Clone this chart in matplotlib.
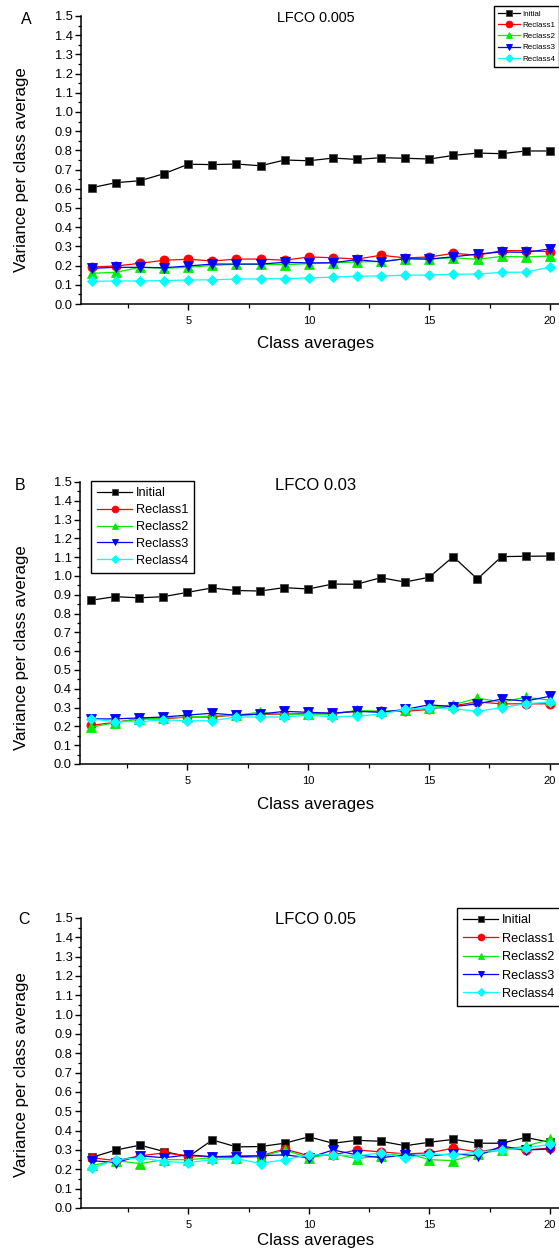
import matplotlib
matplotlib.use("Agg")
import matplotlib.pyplot as plt
from matplotlib.ticker import MultipleLocator
import numpy as np

plt.rcParams['font.family'] = ['Liberation Sans', 'DejaVu Sans']

# ---------------- data ----------------
class_idx = list(range(1, 21))
series_names = ["Initial", "Reclass1", "Reclass2", "Reclass3", "Reclass4"]

# Panel A  (LFCO 0.005)
a_initial = [0.606, 0.632, 0.642, 0.679, 0.728, 0.726, 0.729, 0.720, 0.750, 0.746,
             0.760, 0.753, 0.762, 0.759, 0.755, 0.774, 0.786, 0.783, 0.797, 0.797]
a_reclass1 = [0.193, 0.198, 0.212, 0.228, 0.233, 0.224, 0.234, 0.234, 0.228, 0.245,
              0.241, 0.234, 0.254, 0.240, 0.245, 0.264, 0.254, 0.278, 0.278, 0.272]
a_reclass2 = [0.160, 0.165, 0.191, 0.186, 0.191, 0.201, 0.207, 0.207, 0.205, 0.210,
              0.214, 0.219, 0.222, 0.236, 0.234, 0.241, 0.233, 0.248, 0.245, 0.250]
a_reclass3 = [0.186, 0.191, 0.191, 0.189, 0.198, 0.208, 0.208, 0.208, 0.217, 0.214,
              0.215, 0.231, 0.219, 0.236, 0.234, 0.246, 0.260, 0.271, 0.269, 0.287]
a_reclass4 = [0.118, 0.120, 0.120, 0.122, 0.125, 0.126, 0.130, 0.131, 0.132, 0.136,
              0.140, 0.145, 0.146, 0.150, 0.151, 0.155, 0.156, 0.165, 0.166, 0.192]

# Panel B  (LFCO 0.03)
b_initial = [0.871, 0.890, 0.884, 0.890, 0.913, 0.936, 0.923, 0.920, 0.938, 0.931,
             0.957, 0.956, 0.991, 0.968, 0.993, 1.103, 0.984, 1.103, 1.105, 1.106]
b_reclass1 = [0.205, 0.222, 0.240, 0.240, 0.250, 0.250, 0.260, 0.265, 0.265, 0.270,
              0.270, 0.280, 0.280, 0.280, 0.290, 0.310, 0.330, 0.320, 0.320, 0.320]
b_reclass2 = [0.195, 0.220, 0.240, 0.245, 0.250, 0.255, 0.260, 0.275, 0.265, 0.265,
              0.265, 0.285, 0.280, 0.285, 0.300, 0.315, 0.350, 0.330, 0.355, 0.340]
b_reclass3 = [0.240, 0.240, 0.245, 0.250, 0.260, 0.270, 0.260, 0.265, 0.280, 0.275,
              0.270, 0.280, 0.275, 0.290, 0.315, 0.305, 0.320, 0.345, 0.335, 0.360]
b_reclass4 = [0.240, 0.225, 0.225, 0.235, 0.230, 0.230, 0.250, 0.250, 0.250, 0.260,
              0.250, 0.255, 0.265, 0.290, 0.300, 0.295, 0.280, 0.300, 0.320, 0.330]

# Panel C  (LFCO 0.05)
c_initial = [0.262, 0.300, 0.325, 0.292, 0.265, 0.352, 0.316, 0.318, 0.335, 0.368,
             0.335, 0.350, 0.345, 0.322, 0.340, 0.355, 0.335, 0.335, 0.365, 0.340]
c_reclass1 = [0.260, 0.245, 0.270, 0.285, 0.270, 0.265, 0.270, 0.270, 0.305, 0.270,
              0.275, 0.300, 0.290, 0.280, 0.285, 0.310, 0.290, 0.310, 0.300, 0.310]
c_reclass2 = [0.220, 0.245, 0.230, 0.250, 0.250, 0.260, 0.260, 0.265, 0.300, 0.260,
              0.280, 0.255, 0.270, 0.285, 0.250, 0.245, 0.280, 0.300, 0.320, 0.355]
c_reclass3 = [0.245, 0.235, 0.270, 0.260, 0.275, 0.265, 0.265, 0.270, 0.275, 0.260,
              0.300, 0.275, 0.260, 0.275, 0.270, 0.280, 0.270, 0.320, 0.300, 0.305]
c_reclass4 = [0.205, 0.250, 0.260, 0.240, 0.235, 0.250, 0.255, 0.230, 0.250, 0.275,
              0.275, 0.270, 0.285, 0.260, 0.280, 0.275, 0.290, 0.300, 0.310, 0.330]

panel_letters = ["A", "B", "C"]
panel_titles = ["LFCO 0.005", "LFCO 0.03", "LFCO 0.05"]
x_label = "Class averages"
y_label = "Variance per class average"

# ---------------- styling ----------------
colors = ["black", "red", "#00ee00", "blue", "cyan"]
markers = ["s", "o", "^", "v", "D"]
msizes = [6.0, 6.5, 6.5, 6.5, 5.0]

W, H = 559, 1258
fig = plt.figure(figsize=(W / 100, H / 100), dpi=100)


def rect(l, t, r, b):
    return [l / W, 1 - b / H, (r - l) / W, (b - t) / H]


panels = [
    dict(data=[a_initial, a_reclass1, a_reclass2, a_reclass3, a_reclass4],
         box=(81, 16, 574, 304), letter_xy=(26, 20), title_y=18, ylab_y=170,
         xlab_y=343, leg=dict(loc="upper right", anchor=(559, 6), fs=5.8,
                              spacing=0.45, ms=0.75)),
    dict(data=[b_initial, b_reclass1, b_reclass2, b_reclass3, b_reclass4],
         box=(80, 482, 574, 764), letter_xy=(20, 485), title_y=486, ylab_y=648,
         xlab_y=804, leg=dict(loc="upper left", anchor=(91, 481), fs=9.2,
                              spacing=0.38, ms=0.75)),
    dict(data=[c_initial, c_reclass1, c_reclass2, c_reclass3, c_reclass4],
         box=(81, 918, 574, 1208), letter_xy=(24, 920), title_y=920, ylab_y=1075,
         xlab_y=1240, leg=dict(loc="upper left", anchor=(457, 908), fs=9.2,
                               spacing=0.5, ms=0.75)),
]

title_sizes = [10.4, 12.0, 12.0]

for i, p in enumerate(panels):
    l, t, r, b = p["box"]
    ax = fig.add_axes(rect(l, t, r, b))
    for s, vals in enumerate(p["data"]):
        ax.plot(class_idx, vals, color=colors[s], marker=markers[s],
                markersize=msizes[s], markeredgecolor=colors[s] if s else "#444444",
                markeredgewidth=0.6, linewidth=0.9, label=series_names[s])
    ax.set_xlim(0.55, 21)
    ax.set_ylim(0.0, 1.5)
    ax.spines["top"].set_visible(False)
    ax.spines["right"].set_visible(False)
    for sp in ("left", "bottom"):
        ax.spines[sp].set_linewidth(1.1)
    ax.xaxis.set_major_locator(MultipleLocator(5))
    ax.xaxis.set_minor_locator(MultipleLocator(2.5))
    ax.yaxis.set_major_locator(MultipleLocator(0.1))
    ax.yaxis.set_minor_locator(MultipleLocator(0.05))
    ax.set_yticks(np.arange(0, 1.51, 0.1))
    ax.set_yticklabels([f"{v:.1f}" for v in np.arange(0, 1.51, 0.1)])
    ax.tick_params(axis="y", which="major", direction="out", length=4.5, width=1.0,
                   labelsize=9.3, pad=1.5)
    ax.tick_params(axis="y", which="minor", direction="out", length=2.5, width=0.9)
    ax.tick_params(axis="x", which="major", direction="out", length=4.0, width=1.0,
                   labelsize=8, pad=4.5)
    ax.tick_params(axis="x", which="minor", direction="out", length=3.0, width=0.9)

    # axis labels
    ax.set_xlabel(x_label, fontsize=12.2)
    ax.xaxis.set_label_coords((316 - l) / (r - l), -(p["xlab_y"] - b) / (b - t))
    ax.xaxis.label.set_va("center")
    ax.set_ylabel(y_label, fontsize=12.2)
    ax.yaxis.set_label_coords(-(l - 22) / (r - l), (b - p["ylab_y"]) / (b - t))
    ax.yaxis.label.set_va("center")

    # title inside the axes and panel letter
    fig.text(316 / W, 1 - p["title_y"] / H, panel_titles[i], fontsize=title_sizes[i],
             ha="center", va="center")
    lx, ly = p["letter_xy"]
    fig.text(lx / W, 1 - ly / H, panel_letters[i], fontsize=11.5,
             ha="center", va="center")

    lg = p["leg"]
    leg = ax.legend(loc=lg["loc"], bbox_to_anchor=(lg["anchor"][0] / W, 1 - lg["anchor"][1] / H),
                    bbox_transform=fig.transFigure, fontsize=lg["fs"], frameon=True,
                    fancybox=False, edgecolor="black", framealpha=1.0,
                    handlelength=2.7, handletextpad=0.3, labelspacing=lg["spacing"],
                    borderpad=0.5, borderaxespad=0.0, markerscale=lg["ms"])
    leg.get_frame().set_linewidth(1.0)

fig.savefig("out.png", dpi=100)
